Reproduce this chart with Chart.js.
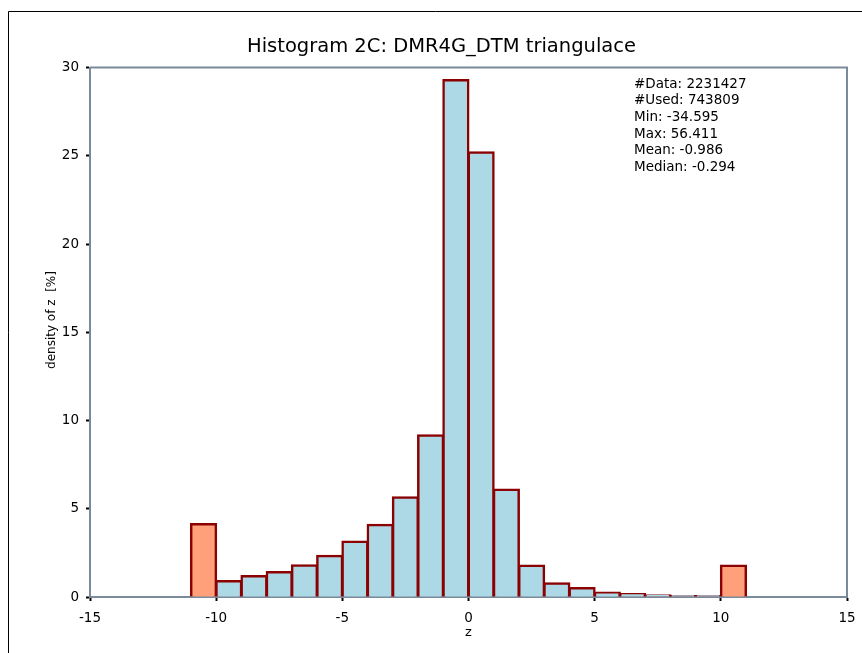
<!DOCTYPE html>
<html>
<head>
<meta charset="utf-8">
<title>Histogram 2C</title>
<script src="https://cdn.jsdelivr.net/npm/chart.js@4"></script>
<style>
  html, body { margin: 0; padding: 0; background: #fff; }
  canvas { display: block; }
</style>
</head>
<body>
<canvas id="histogram" width="862" height="653"></canvas>
<script>
// bins are 1 unit wide, centers listed
const binCenters = [
  -10.5, -9.5, -8.5, -7.5, -6.5, -5.5, -4.5, -3.5, -2.5, -1.5, -0.5,
  0.5, 1.5, 2.5, 3.5, 4.5, 5.5, 6.5, 7.5, 8.5, 9.5, 10.5,
];
const density = [
  4.14, 0.91, 1.19, 1.42, 1.8, 2.34, 3.14, 4.1, 5.65, 9.17, 29.3,
  25.2, 6.09, 1.78, 0.78, 0.51, 0.25, 0.17, 0.1, 0.06, 0.05, 1.78,
];
// first and last bin collect the values outside the range
const outlierBin = [
  true, false, false, false, false, false, false, false, false, false, false,
  false, false, false, false, false, false, false, false, false, false, true,
];
const xTicks = [-15, -10, -5, 0, 5, 10, 15];
const yTicks = [0, 5, 10, 15, 20, 25, 30];
const statsLines = [
  "#Data: 2231427",
  "#Used: 743809",
  "Min: -34.595",
  "Max: 56.411",
  "Mean: -0.986",
  "Median: -0.294",
];

const axisColor = "#7a8a9a";
const fontFamily = "'DejaVu Sans', Verdana, sans-serif";

Chart.defaults.font.family = fontFamily;
Chart.defaults.color = "#000";

// frame on top/right, outer black border, y title and the stats box
const decorations = {
  id: "decorations",
  afterDraw(chart) {
    const c = chart.ctx;
    const a = chart.chartArea;
    c.save();
    c.strokeStyle = axisColor;
    c.lineWidth = 2;
    c.beginPath();
    c.moveTo(a.left, a.top);
    c.lineTo(a.right, a.top);
    c.lineTo(a.right, a.bottom);
    c.stroke();

    c.strokeStyle = "#000";
    c.lineWidth = 1;
    c.beginPath();
    c.moveTo(8.5, chart.height + 2);
    c.lineTo(8.5, 11.5);
    c.lineTo(chart.width + 2, 11.5);
    c.stroke();

    c.fillStyle = "#000";
    c.font = "13.5px " + fontFamily;
    c.textBaseline = "middle";
    statsLines.forEach((line, i) => {
      c.fillText(line, 634, 84 + i * 16.7);
    });

    c.translate(52, 320);
    c.rotate(-Math.PI / 2);
    c.font = "12px " + fontFamily;
    c.textAlign = "center";
    c.fillText("density of z  [%]", 0, 0);
    c.restore();
  },
};

const ctx = document.getElementById("histogram");

new Chart(ctx, {
  type: "bar",
  data: {
    datasets: [
      {
        label: "density of z [%]",
        data: binCenters.map((x, i) => ({ x: x, y: density[i] })),
        backgroundColor: outlierBin.map((o) => (o ? "#ffa07a" : "#add8e6")),
        borderColor: "#8b0000",
        borderWidth: 2.5,
        inflateAmount: 1,
        barPercentage: 1,
        categoryPercentage: 1,
      },
    ],
  },
  options: {
    responsive: false,
    animation: false,
    devicePixelRatio: 1,
    layout: {
      padding: { left: 36, right: 15, top: 0, bottom: 0 },
    },
    plugins: {
      legend: { display: false },
      tooltip: { enabled: false },
      title: {
        display: true,
        text: "Histogram 2C: DMR4G_DTM triangulace",
        font: { size: 19.5, weight: "normal" },
        color: "#000",
        padding: { top: 35, bottom: 9.2 },
      },
    },
    scales: {
      x: {
        type: "linear",
        min: -15,
        max: 15,
        offset: false,
        z: 1,
        afterBuildTicks: (scale) => {
          scale.ticks = xTicks.map((v) => ({ value: v }));
        },
        afterFit: (scale) => {
          scale.height = 56;
          scale.paddingLeft = 0;
          scale.paddingRight = 0;
        },
        ticks: {
          font: { size: 13.5 },
          padding: 9,
          maxRotation: 0,
        },
        grid: {
          offset: false,
          drawOnChartArea: false,
          drawTicks: true,
          tickLength: 4,
          tickWidth: 2,
          tickColor: "#000",
        },
        border: { color: axisColor, width: 2 },
        title: {
          display: true,
          text: "z",
          font: { size: 13 },
          padding: { top: 0, bottom: 13 },
        },
      },
      y: {
        min: 0,
        max: 30,
        z: 1,
        afterBuildTicks: (scale) => {
          scale.ticks = yTicks.map((v) => ({ value: v }));
        },
        afterFit: (scale) => {
          scale.width = 54;
        },
        ticks: {
          font: { size: 13.5 },
          padding: 7,
        },
        grid: {
          drawOnChartArea: false,
          drawTicks: true,
          tickLength: 4,
          tickWidth: 2,
          tickColor: "#000",
        },
        border: { color: axisColor, width: 2 },
      },
    },
  },
  plugins: [decorations],
});
</script>
</body>
</html>
